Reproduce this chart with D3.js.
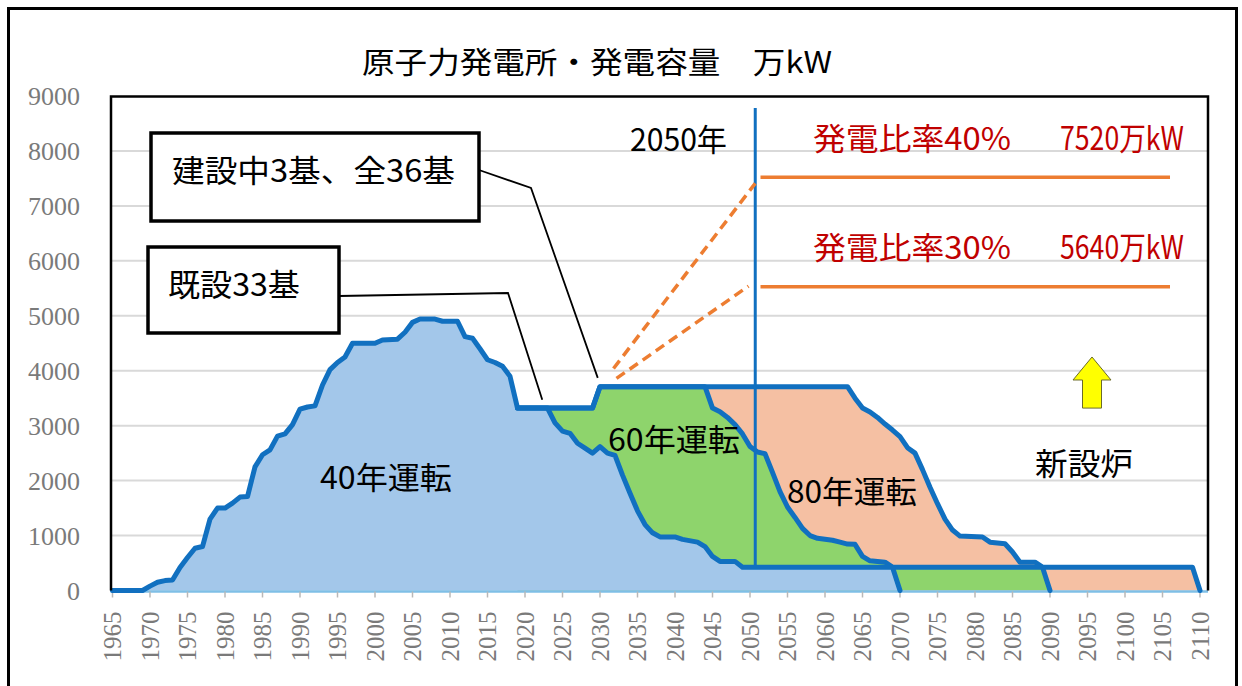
<!DOCTYPE html>
<html>
<head>
<meta charset="utf-8">
<script src="https://cdn.jsdelivr.net/npm/d3@7"></script>
<style>
  body { margin: 0; background: #fff; }
  text { font-family: "Noto Sans CJK JP", "Noto Sans", sans-serif; }
  .axis text { font-family: "Liberation Serif", "DejaVu Serif", serif; fill: #7a7a7a; }
</style>
</head>
<body>
<div id="chart"></div>
<script>
// capacity (万kW) by year as [year, value] break points
const op40 = [[1965,0],[1969,0],[1970,80],[1971,150],[1972,180],[1973,190],[1974,420],[1975,600],
  [1976,770],[1977,800],[1978,1300],[1979,1500],[1980,1500],[1981,1590],[1982,1700],[1983,1710],
  [1984,2250],[1985,2470],[1986,2560],[1987,2810],[1988,2850],[1989,3020],[1990,3300],[1991,3340],
  [1992,3360],[1993,3740],[1994,4020],[1995,4150],[1996,4250],[1997,4500],[2000,4500],[2001,4560],
  [2003,4575],[2004,4700],[2005,4880],[2006,4940],[2008,4940],[2009,4900],[2011,4900],[2012,4620],
  [2013,4590],[2014,4400],[2015,4200],[2016,4150],[2017,4080],[2018,3900],[2019,3320],[2023,3320],
  [2024,3050],[2025,2900],[2026,2860],[2027,2680],[2028,2590],[2029,2500],[2030,2620],[2031,2500],
  [2032,2460],[2033,2100],[2034,1770],[2035,1450],[2036,1200],[2037,1050],[2038,975],[2040,975],
  [2041,930],[2043,880],[2044,800],[2045,620],[2046,530],[2048,530],[2049,425],[2069,425],[2070,0]];

const op60 = [[2019,3320],[2029,3320],[2030,3710],[2044,3710],[2045,3320],[2046,3255],[2047,3150],
  [2048,3020],[2049,2850],[2050,2620],[2051,2520],[2052,2490],[2053,2150],[2054,1800],[2055,1520],
  [2056,1330],[2057,1130],[2058,1000],[2059,950],[2061,915],[2062,880],[2063,845],[2064,840],
  [2065,620],[2066,540],[2068,515],[2069,425],[2089,425],[2090,0]];

const op80 = [[2019,3320],[2029,3320],[2030,3710],[2063,3710],[2064,3500],[2065,3320],[2066,3250],
  [2067,3150],[2068,3030],[2069,2920],[2070,2800],[2071,2600],[2072,2500],[2073,2200],[2074,1880],
  [2075,1580],[2076,1300],[2077,1100],[2078,990],[2081,975],[2082,880],[2084,850],[2085,700],
  [2086,515],[2088,515],[2089,425],[2109,425],[2110,0]];

const yTicks = [0,1000,2000,3000,4000,5000,6000,7000,8000,9000];
const xTicks = d3.range(1965, 2111, 5);

// 2050 targets: solid level lines and dashed ramps from today's total
const targetLevels = [7520, 5530];
const rampStart = [[2031.8,4040],[2032.2,3860]];
const rampEnd = [[2050.7,7410],[2049.8,5540]];
const targetLabels = [["発電比率40%","7520万kW"],["発電比率30%","5640万kW"]];

const W = 1242, H = 686;
const svg = d3.select("#chart").append("svg")
  .attr("width", W).attr("height", H);

const x = d3.scaleLinear().domain([1965, 2110]).range([112.5, 1200]);
const y = d3.scaleLinear().domain([0, 9000]).range([590.5, 96]);
const plotL = 111, plotR = 1208, plotT = 96.5, plotB = 590.5;

// outer frame
svg.append("rect").attr("x", 8.5).attr("y", 8.5).attr("width", 1228).attr("height", 700)
  .attr("fill", "#fff").attr("stroke", "#000").attr("stroke-width", 3);

// grid
svg.append("g").selectAll("line").data(yTicks.filter(d => d > 0 && d < 9000)).join("line")
  .attr("x1", plotL).attr("x2", plotR).attr("y1", d => y(d)).attr("y2", d => y(d))
  .attr("stroke", "#d9d9d9").attr("stroke-width", 2);

// y labels
svg.append("g").attr("class", "axis").selectAll("text").data(yTicks).join("text")
  .attr("x", 80).attr("y", d => y(d)).attr("dy", "0.35em")
  .attr("text-anchor", "end").style("font-size", "26px").text(d => d);

const area = d3.area().x(d => x(d[0])).y0(y(0)).y1(d => y(d[1]));
const line = d3.line().x(d => x(d[0])).y(d => y(d[1]));

const series = [
  {data: op80, fill: "#f5c0a3"},
  {data: op60, fill: "#8ed46c"},
  {data: op40, fill: "#a3c7ea"}
];
svg.append("g").selectAll("path").data(series).join("path")
  .attr("d", d => area(d.data)).attr("fill", d => d.fill);

// x axis baseline
const xAxis = svg.append("g").attr("class", "axis");
xAxis.append("line").attr("x1", plotL).attr("x2", plotR).attr("y1", plotB + 1).attr("y2", plotB + 1)
  .attr("stroke", "#7fbfe6").attr("stroke-width", 2.5);
xAxis.selectAll(".tk").data(xTicks).join("line").attr("class", "tk")
  .attr("x1", d => x(d)).attr("x2", d => x(d)).attr("y1", plotB + 1).attr("y2", plotB + 7)
  .attr("stroke", "#b8b8b8").attr("stroke-width", 1.5);
xAxis.selectAll("text").data(xTicks).join("text")
  .attr("transform", d => `translate(${x(d)},${plotB + 21}) rotate(-90)`)
  .attr("dy", "0.35em").attr("text-anchor", "end").style("font-size", "25px").text(d => d);

// outlines
svg.append("g").selectAll("path").data(series).join("path")
  .attr("d", d => line(d.data)).attr("fill", "none")
  .attr("stroke", "#1170c0").attr("stroke-width", 5)
  .attr("stroke-linejoin", "round").attr("stroke-linecap", "round");

// plot frame
svg.append("path")
  .attr("d", `M${plotL},${plotB} V${plotT} H${plotR} V${plotB}`)
  .attr("fill", "none").attr("stroke", "#000").attr("stroke-width", 2.5);

// 2050 marker
svg.append("line").attr("x1", x(2050.7)).attr("x2", x(2050.7)).attr("y1", y(8780)).attr("y2", y(425))
  .attr("stroke", "#1170c0").attr("stroke-width", 3);
svg.append("text").attr("x", 630).attr("y", 140).attr("dy", "0.35em")
  .attr("textLength", 97).attr("lengthAdjust", "spacingAndGlyphs")
  .style("font-size", "31px").text("2050年");

// target levels
svg.append("g").selectAll("line").data(targetLevels).join("line")
  .attr("x1", x(2051.4)).attr("x2", x(2106)).attr("y1", d => y(d)).attr("y2", d => y(d))
  .attr("stroke", "#ed7d31").attr("stroke-width", 3.5);
svg.append("g").selectAll("line").data(d3.zip(rampStart, rampEnd)).join("line")
  .attr("x1", d => x(d[0][0])).attr("y1", d => y(d[0][1]))
  .attr("x2", d => x(d[1][0])).attr("y2", d => y(d[1][1]))
  .attr("stroke", "#ed7d31").attr("stroke-width", 3.5).attr("stroke-dasharray", "10,6");
const labelY = [139, 248];
targetLabels.forEach((t, i) => {
  svg.append("text").attr("x", 813).attr("y", labelY[i]).attr("dy", "0.35em")
    .attr("textLength", 198).attr("lengthAdjust", "spacingAndGlyphs")
    .attr("fill", "#c00000").style("font-size", "31px").text(t[0]);
  svg.append("text").attr("x", 1060).attr("y", labelY[i]).attr("dy", "0.35em")
    .attr("textLength", 124).attr("lengthAdjust", "spacingAndGlyphs")
    .attr("fill", "#c00000").style("font-size", "32px").text(t[1]);
});

// title
svg.append("text").attr("x", 362).attr("y", 62).attr("dy", "0.35em")
  .attr("textLength", 470).attr("lengthAdjust", "spacingAndGlyphs")
  .style("font-size", "30px").text("原子力発電所・発電容量　万kW");

// region labels
const regionLabels = [
  {t: "40年運転", x: 320, y: 478, w: 132},
  {t: "60年運転", x: 608, y: 440, w: 132},
  {t: "80年運転", x: 787, y: 492, w: 130},
  {t: "新設炉", x: 1035, y: 464, w: 98}
];
svg.append("g").selectAll("text").data(regionLabels).join("text")
  .attr("x", d => d.x).attr("y", d => d.y).attr("dy", "0.35em")
  .attr("textLength", d => d.w).attr("lengthAdjust", "spacingAndGlyphs")
  .style("font-size", "31px").text(d => d.t);

// callout boxes
const callouts = [
  {t: "建設中3基、全36基", bx: 151, by: 133, bw: 328, bh: 88, tx: 172, tw: 283,
   pts: [[479,170],[531,188],[x(2029.7), y(3870)]]},
  {t: "既設33基", bx: 148, by: 247, bw: 191, bh: 86, tx: 168, tw: 132,
   pts: [[339,296],[508,293],[x(2022.3), y(3470)]]}
];
callouts.forEach(c => {
  svg.append("path").attr("d", d3.line()(c.pts)).attr("fill", "none")
    .attr("stroke", "#000").attr("stroke-width", 1.8);
  svg.append("rect").attr("x", c.bx).attr("y", c.by).attr("width", c.bw).attr("height", c.bh)
    .attr("fill", "#fff").attr("stroke", "#000").attr("stroke-width", 3.5);
  svg.append("text").attr("x", c.tx).attr("y", c.by + 38).attr("dy", "0.35em")
    .attr("textLength", c.tw).attr("lengthAdjust", "spacingAndGlyphs")
    .style("font-size", "31px").text(c.t);
});

// yellow arrow (new reactors)
const ax = x(2095.6), at = y(4250), ab = y(3320);
svg.append("path")
  .attr("d", `M${ax},${at} L${ax + 19},${at + 23} L${ax + 9.5},${at + 23} L${ax + 9.5},${ab}
    L${ax - 9.5},${ab} L${ax - 9.5},${at + 23} L${ax - 19},${at + 23} Z`)
  .attr("fill", "#ffff00").attr("stroke", "#6b6b2a").attr("stroke-width", 1);
</script>
</body>
</html>
